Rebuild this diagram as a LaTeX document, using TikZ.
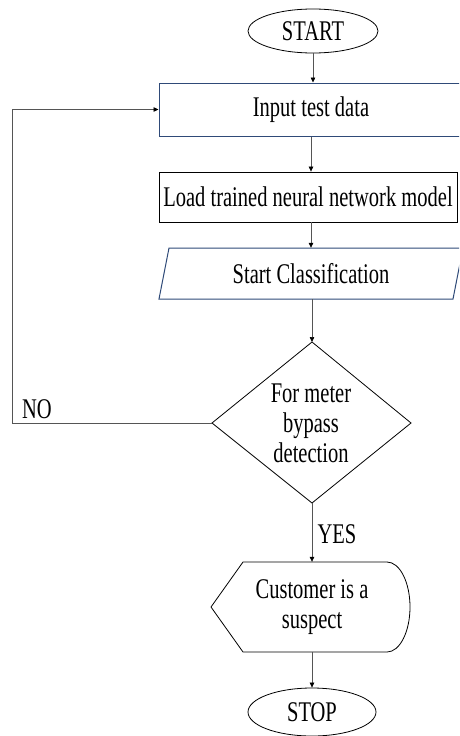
\documentclass[tikz,border=0pt]{standalone}
\usepackage{fontspec}
\setmainfont{Liberation Serif}[FakeStretch=0.72]
\usetikzlibrary{shapes.geometric,arrows.meta}
\definecolor{navy}{HTML}{2F4A78}
\definecolor{conn}{HTML}{555555}
\begin{document}
\begin{tikzpicture}[x=1pt,y=-1pt,
  every node/.style={font=\fontsize{28.5}{30}\selectfont, inner sep=0pt},
  arr/.style={draw=conn,line width=0.7pt,-{Triangle[length=5pt,width=4.5pt,color=black]}},
  line/.style={draw=conn,line width=0.7pt},
  blackline/.style={draw=black,line width=0.8pt},
  navyline/.style={draw=navy,line width=1pt},
  terminal/.style={ellipse,blackline,minimum width=130pt,minimum height=44pt}]
\clip (0,0) rectangle (459,736);
\fill[white] (0,0) rectangle (459,736);
% nodes
\node[terminal] (start) at (313,31) {START};
\node[navyline,rectangle,minimum width=304pt,minimum height=53pt] (input) at (311,109.5) {Input test data};
\node[blackline,rectangle,minimum width=298pt,minimum height=50pt] (load) at (308,197) {Load trained neural network model};
\draw[navyline] (169,248) -- (463,248) -- (453,299) -- (159,299) -- cycle;
\node[rectangle,minimum width=294pt,minimum height=51pt] (classify) at (311,273.5) {Start Classification};
\coordinate (dtop) at (312,342);
\coordinate (dright) at (411,423);
\coordinate (dbot) at (312,503);
\coordinate (dleft) at (212,423);
\draw[blackline] (dtop) -- (dright) -- (dbot) -- (dleft) -- cycle;
\node[align=center] (dec) at (311,423) {For meter\\bypass\\detection};
\draw[blackline] (211,607) -- (243,562) -- (387,562)
  .. controls (399.7,562) and (410,582.1) .. (410,607)
  .. controls (410,631.9) and (399.7,652) .. (387,652)
  -- (243,652) -- cycle;
\node[align=center,minimum height=90pt] (susp) at (312,607) {Customer is a\\suspect};
\node[terminal,minimum width=128pt,minimum height=48pt] (stop) at (312,712) {STOP};
\node (no) at (37,409) {NO};
\node (yes) at (337,534) {YES};
\coordinate (loopc) at (12,423);
% connectors
\draw[arr] (start.south) -- (start.south |- input.north);
\draw[arr] (input.south) -- (input.south |- load.north);
\draw[arr] (input.south |- load.south) -- (input.south |- classify.north);
\draw[arr] (classify.south -| dtop) -- (dtop);
\draw[arr] (dbot) -- (susp.north);
\draw[arr] (susp.south) -- (stop.north);
\draw[arr] (dleft) -- (loopc) |- (input.west);
\end{tikzpicture}
\end{document}
